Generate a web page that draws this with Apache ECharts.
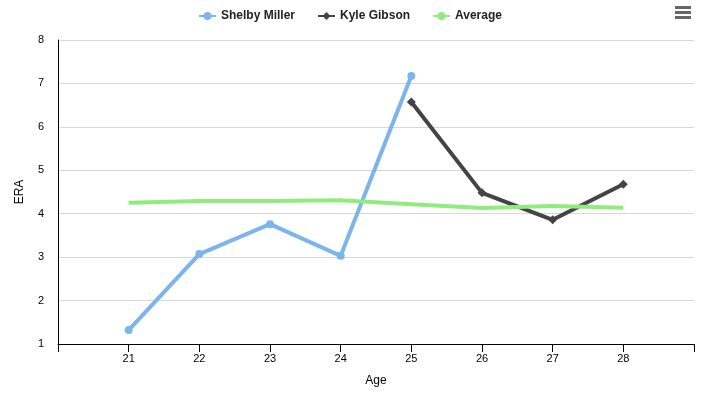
<!DOCTYPE html>
<html><head><meta charset="utf-8">
<script src="https://cdn.jsdelivr.net/npm/echarts@6/dist/echarts.min.js"></script>
<style>html,body{margin:0;padding:0;background:#fff}#c{width:718px;height:411px}</style>
</head><body><div id="c"></div>
<script>
const ages = [21, 22, 23, 24, 25, 26, 27, 28];
const shelbyMiller = [1.32, 3.07, 3.76, 3.03, 7.17, null, null, null];
const kyleGibson = [null, null, null, null, 6.57, 4.48, 3.86, 4.68];
const average = [4.25, 4.29, 4.29, 4.31, 4.22, 4.13, 4.18, 4.14];
const yTicks = [1, 2, 3, 4, 5, 6, 7, 8];

function pairs(vals){ return ages.map((a,i)=>[a, vals[i]]).filter(p=>p[1]!==null); }

const chart = echarts.init(document.getElementById('c'), null, {renderer:'canvas'});
const font = 'Arial, "Liberation Sans", sans-serif';
chart.setOption({
  animation:false,
  backgroundColor:'#fff',
  textStyle:{fontFamily:font},
  legend:{
    top:5, left:193, itemGap:22, itemWidth:17, itemHeight:10,
    textStyle:{fontFamily:font, fontSize:12, fontWeight:'bold', color:'#222'},
    data:['Shelby Miller','Kyle Gibson','Average']
  },
  grid:{left:58, right:24, top:40, bottom:67},
  xAxis:{
    type:'value', min:20, max:29, interval:1,
    name:'Age', nameLocation:'middle', nameGap:31,
    nameTextStyle:{fontFamily:font, fontSize:12, color:'#000'},
    axisLine:{lineStyle:{color:'#000', width:1}},
    axisTick:{length:8, lineStyle:{color:'#000'}},
    axisLabel:{fontFamily:font, fontSize:11, color:'#000', margin:9,
      formatter:v=>ages.includes(v)?String(v):''},
    splitLine:{show:false}
  },
  yAxis:{
    type:'value', min:yTicks[0], max:yTicks[yTicks.length-1], interval:1,
    name:'ERA', nameLocation:'middle', nameGap:32,
    nameTextStyle:{fontFamily:font, fontSize:12, color:'#000'},
    axisLine:{show:true, lineStyle:{color:'#000', width:1}},
    axisTick:{show:false},
    axisLabel:{fontFamily:font, fontSize:11, color:'#000', margin:14},
    splitLine:{lineStyle:{color:'#d8d8d8'}}
  },
  series:[
    {name:'Shelby Miller', type:'line', data:pairs(shelbyMiller), color:'#7cb5ec',
     lineStyle:{width:4}, symbol:'circle', symbolSize:8, showSymbol:true},
    {name:'Kyle Gibson', type:'line', data:pairs(kyleGibson), color:'#434348',
     lineStyle:{width:4}, symbol:'diamond', symbolSize:9, showSymbol:true},
    {name:'Average', type:'line', data:pairs(average), color:'#90ed7d',
     lineStyle:{width:4}, symbol:'none', showSymbol:false}
  ],
  graphic:[
    {type:'group', left:675, top:6, children:[
      {type:'rect', shape:{x:0,y:0,width:16,height:3}, style:{fill:'#666'}},
      {type:'rect', shape:{x:0,y:5,width:16,height:3}, style:{fill:'#666'}},
      {type:'rect', shape:{x:0,y:10,width:16,height:3}, style:{fill:'#666'}}
    ]}
  ]
});
</script></body></html>
